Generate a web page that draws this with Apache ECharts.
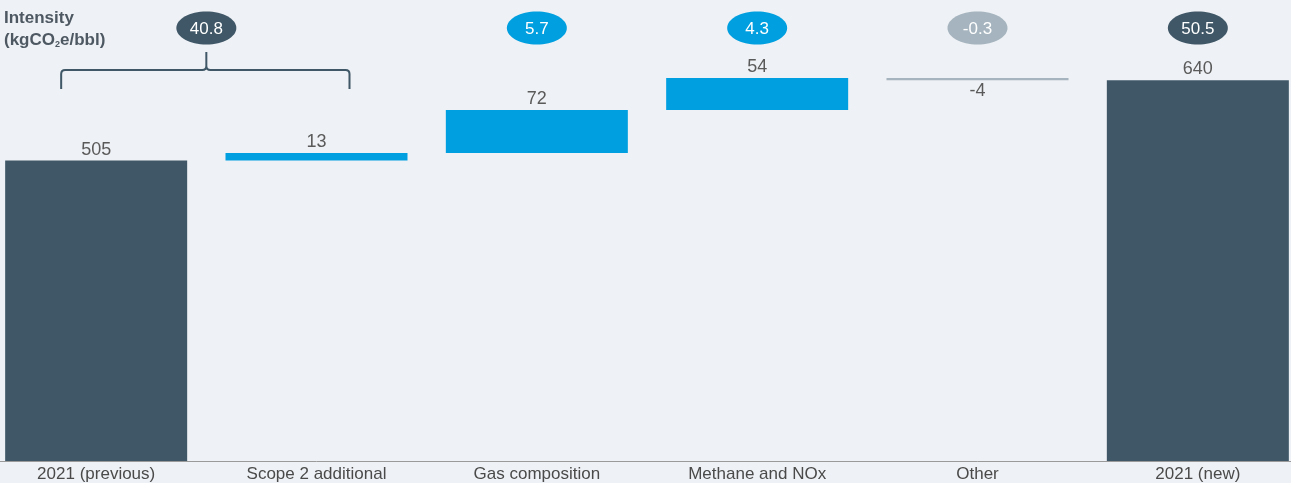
<!DOCTYPE html>
<html>
<head>
<meta charset="utf-8">
<script src="https://cdn.jsdelivr.net/npm/echarts@6/dist/echarts.min.js"></script>
<style>
  html, body { margin: 0; padding: 0; background: #eef1f5; overflow: hidden; }
  body { width: 1291px; height: 483px; position: relative; }
  #chart { width: 1322px; height: 483px; position: absolute; left: -14px; top: 0; }
</style>
</head>
<body>
<div id="chart"></div>
<script>
// data
const categories = ["2021 (previous)", "Scope 2 additional", "Gas composition", "Methane and NOx", "Other", "2021 (new)"];
const values = [505, 13, 72, 54, -4, 640];
const isTotal = [true, false, false, false, false, true];
const pillStart = [0, 2, 3, 4, 5];
const pillEnd = [1, 2, 3, 4, 5];
const pillValues = ["40.8", "5.7", "4.3", "-0.3", "50.5"];

const DARK = "#3f5767", BLUE = "#009fdf", GREY = "#a5b4be";
const pillColors = [DARK, BLUE, BLUE, GREY, DARK];

// waterfall base / visible parts
let running = 0;
const baseData = [], barData = [];
values.forEach((v, i) => {
  let color = isTotal[i] ? DARK : (v < 0 ? GREY : BLUE);
  if (isTotal[i]) {
    baseData.push(0);
    running = v;
  } else if (v >= 0) {
    baseData.push(running);
    running += v;
  } else {
    running += v;
    baseData.push(running);
  }
  barData.push({
    value: Math.abs(v),
    itemStyle: { color: color },
    label: { position: v < 0 ? "bottom" : "top", formatter: String(v) }
  });
});

const myChart = echarts.init(document.getElementById("chart"));
const option = {
  backgroundColor: "#eef1f5",
  animation: false,
  grid: { left: 0, right: 0, top: 3, bottom: 20 },
  title: {
    left: 18, top: 7, padding: 0,
    text: "Intensity\n(kgCO{sub|2}e/bbl)",
    textStyle: {
      fontFamily: "Liberation Sans", fontSize: 17, fontWeight: "bold", color: "#4d5862", lineHeight: 22,
      rich: { sub: { fontSize: 9, fontWeight: "bold", color: "#4d5862", padding: [10, 0, 0, 0] } }
    }
  },
  xAxis: {
    type: "category",
    data: categories,
    axisTick: { show: false },
    axisLine: { lineStyle: { color: "#9a9a9a", width: 1 } },
    axisLabel: { color: "#4a4a4a", fontSize: 17, fontFamily: "Liberation Sans", margin: 5 }
  },
  yAxis: {
    type: "value", min: 0, max: 770, show: false, splitLine: { show: false }
  },
  series: [
    {
      type: "bar", stack: "w", barWidth: 182, silent: true,
      itemStyle: { color: "transparent" },
      data: baseData
    },
    {
      type: "bar", stack: "w", barWidth: 182,
      label: { show: true, color: "#5a5a5a", fontSize: 18, fontFamily: "Liberation Sans", distance: 2 },
      data: barData
    },
    {
      type: "custom",
      encode: { x: 0, y: 1 },
      data: pillStart.map((s, i) => [s, 0, pillEnd[i], i]),
      renderItem: function (params, api) {
        const s = api.value(0), e = api.value(2), idx = api.value(3);
        const xs = api.coord([s, 0])[0], xe = api.coord([e, 0])[0];
        const xm = (xs + xe) / 2;
        const top = params.coordSys.y;
        const cy = top + 25;
        const children = [
          { type: "ellipse", shape: { cx: xm, cy: cy, rx: 30, ry: 16.5 }, style: { fill: pillColors[idx] } },
          { type: "text", style: { text: pillValues[idx], x: xm, y: cy + 1, align: "center", verticalAlign: "middle", fill: "#fff", fontSize: 17, fontFamily: "Liberation Sans" } }
        ];
        if (s !== e) {
          const x0 = xs - 35, x1 = xe + 33;
          const yb = top + 67, ye = top + 86, yc = top + 49;
          const d = "M" + x0 + " " + ye + " L" + x0 + " " + (yb + 4) + " Q" + x0 + " " + yb + " " + (x0 + 4) + " " + yb +
            " L" + (xm - 4) + " " + yb + " Q" + xm + " " + yb + " " + xm + " " + (yb - 4) + " L" + xm + " " + yc +
            " M" + xm + " " + (yb - 4) + " Q" + xm + " " + yb + " " + (xm + 4) + " " + yb +
            " L" + (x1 - 4) + " " + yb + " Q" + x1 + " " + yb + " " + x1 + " " + (yb + 4) + " L" + x1 + " " + ye;
          children.push({ type: "path", shape: { pathData: d }, style: { fill: "none", stroke: DARK, lineWidth: 2 } });
        }
        return { type: "group", children: children };
      }
    }
  ]
};
myChart.setOption(option);
</script>
</body>
</html>
